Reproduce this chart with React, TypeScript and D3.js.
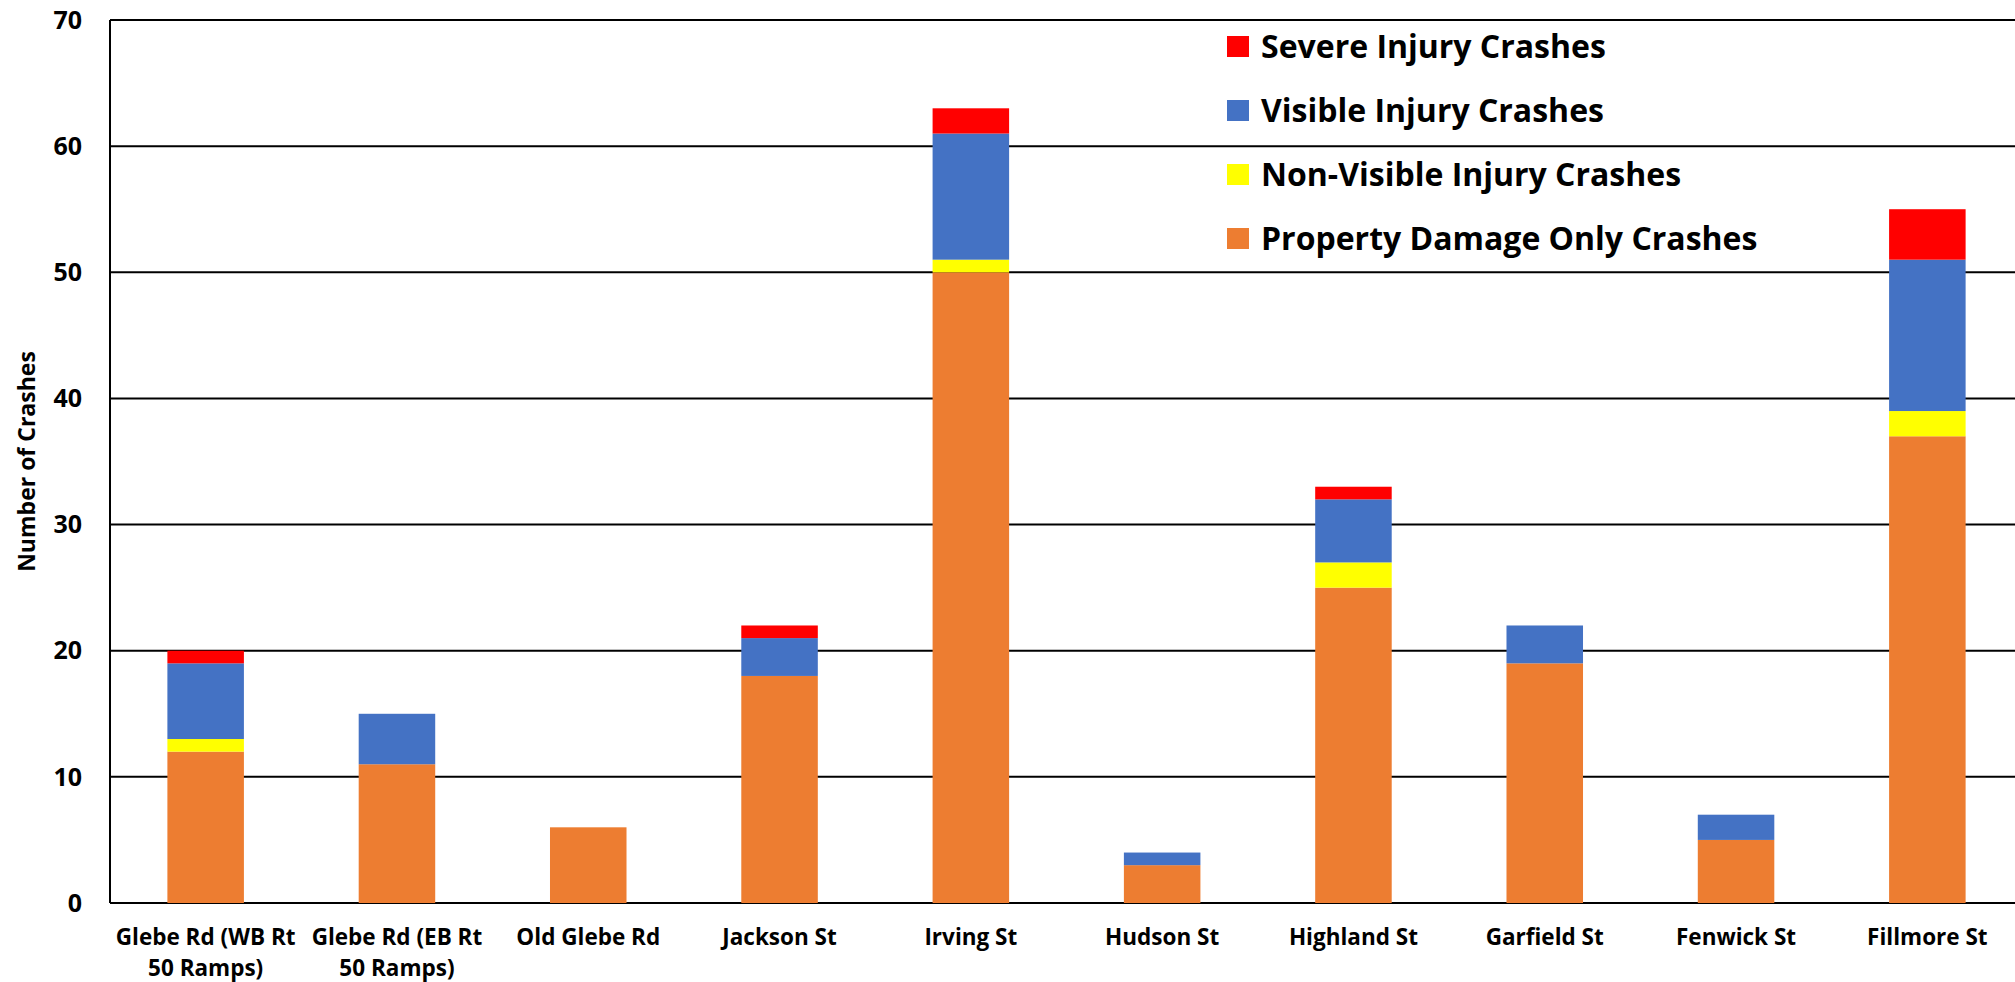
import * as d3 from "d3";

// streets along the corridor
const streets = [
  ["Glebe Rd (WB Rt", "50 Ramps)"],
  ["Glebe Rd (EB Rt", "50 Ramps)"],
  ["Old Glebe Rd"],
  ["Jackson St"],
  ["Irving St"],
  ["Hudson St"],
  ["Highland St"],
  ["Garfield St"],
  ["Fenwick St"],
  ["Fillmore St"],
];

const propertyDamage = [12, 11, 6, 18, 50, 3, 25, 19, 5, 37];
const nonVisible = [1, 0, 0, 0, 1, 0, 2, 0, 0, 2];
const visible = [6, 4, 0, 3, 10, 1, 5, 3, 2, 12];
const severe = [1, 0, 0, 1, 2, 0, 1, 0, 0, 4];

const seriesNames = [
  "Property Damage Only Crashes",
  "Non-Visible Injury Crashes",
  "Visible Injury Crashes",
  "Severe Injury Crashes",
];
const seriesColors = ["#ED7D31", "#FFFF00", "#4472C4", "#FF0000"];
const yTicks = [0, 10, 20, 30, 40, 50, 60, 70];

const W = 2015;
const H = 982;
const margin = { top: 20, left: 110, bottom: 79 };
const plotRight = 2023;
const font = "'Open Sans', Lato, sans-serif";

export default function App() {
  const keys = ["pdo", "nv", "v", "s"];
  const rows = streets.map((s, i) => ({
    name: s.join(" "),
    pdo: propertyDamage[i],
    nv: nonVisible[i],
    v: visible[i],
    s: severe[i],
  }));
  const stacked = d3.stack<any>().keys(keys)(rows);

  const x = d3
    .scaleBand()
    .domain(rows.map((r) => r.name))
    .range([margin.left, plotRight])
    .padding(0);
  const barW = x.bandwidth() * 0.4;
  const y = d3.scaleLinear().domain([0, 70]).range([H - margin.bottom, margin.top]);

  return (
    <svg
      width={W}
      height={H}
      style={{ position: "absolute", left: 0, top: 0, background: "#fff" }}
      fontFamily={font}
    >
      {/* gridlines */}
      {yTicks.map((t) => (
        <line
          key={t}
          x1={margin.left}
          x2={W}
          y1={y(t)}
          y2={y(t)}
          stroke="#000"
          strokeWidth={2}
        />
      ))}
      <line
        x1={margin.left}
        x2={margin.left}
        y1={y(70)}
        y2={y(0)}
        stroke="#000"
        strokeWidth={2}
      />

      {/* bars */}
      {stacked.map((layer, li) => (
        <g key={layer.key} fill={seriesColors[li]}>
          {layer.map((d, i) =>
            d[1] - d[0] > 0 ? (
              <rect
                key={i}
                x={(x(rows[i].name) as number) + (x.bandwidth() - barW) / 2}
                y={y(d[1])}
                width={barW}
                height={y(d[0]) - y(d[1])}
              />
            ) : null
          )}
        </g>
      ))}

      {/* y tick labels */}
      {yTicks.map((t) => (
        <text
          key={t}
          x={82}
          y={y(t)}
          dy="0.35em"
          textAnchor="end"
          fontSize={25}
          fontWeight="bold"
        >
          {t}
        </text>
      ))}

      {/* x labels */}
      {streets.map((lines, i) => (
        <text
          key={i}
          x={(x(rows[i].name) as number) + x.bandwidth() / 2}
          y={945}
          textAnchor="middle"
          fontSize={22.5}
          fontWeight="bold"
        >
          {lines.map((l, j) => (
            <tspan key={j} x={(x(rows[i].name) as number) + x.bandwidth() / 2} dy={j === 0 ? 0 : 31}>
              {l}
            </tspan>
          ))}
        </text>
      ))}

      <text
        transform={`translate(27,${(y(0) + y(70)) / 2}) rotate(-90)`}
        textAnchor="middle"
        dy="0.35em"
        fontSize={23}
        fontWeight="bold"
      >
        Number of Crashes
      </text>

      {/* legend */}
      {[3, 2, 1, 0].map((si, k) => (
        <g key={si} transform={`translate(1227,${47 + k * 64})`}>
          <rect x={0} y={-11} width={22} height={21} fill={seriesColors[si]} />
          <text x={34} y={0} dy="0.35em" fontSize={32} fontWeight="bold">
            {seriesNames[si]}
          </text>
        </g>
      ))}
    </svg>
  );
}
